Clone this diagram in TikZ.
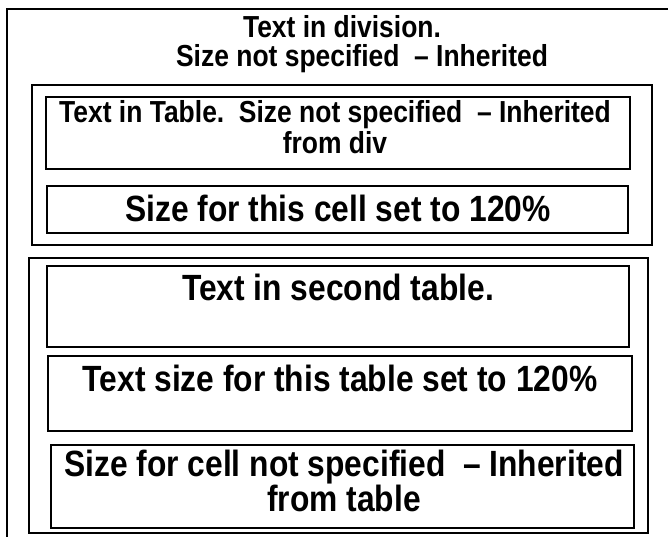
\documentclass[tikz,border=0pt]{standalone}
\usepackage{fontspec}
\setmainfont{Liberation Sans}[FakeStretch=0.87]

\begin{document}
\begin{tikzpicture}[x=1pt, y=-1pt,
  boxline/.style={draw=black, line width=2.2pt},
  normtext/.style={font=\bfseries\fontsize{30.4}{31}\selectfont, align=center, inner sep=0pt},
  bigtext/.style={font=\bfseries\fontsize{36.5}{33}\selectfont, align=center, inner sep=0pt}]

\useasboundingbox (0, 0) rectangle (668, 536);

\def\xo{7}; % division left
\def\yo{9}; % division top

% first table
\def\xal{32};
\def\xar{652};
\def\yat{85};
\def\yab{245};

% second table
\def\xbl{29};
\def\xbr{648};
\def\ybt{258};
\def\ybb{533};

% division (runs off the page on the right and at the bottom)
\draw[boxline] (\xo, 545) -- (\xo, \yo) -- (680, \yo);

\draw[boxline] (\xal, \yat) rectangle (\xar, \yab);
\draw[boxline] (46, 97) rectangle (630, 169);
\draw[boxline] (47, 186) rectangle (628, 233);

\draw[boxline] (\xbl, \ybt) rectangle (\xbr, \ybb);
\draw[boxline] (47, 266) rectangle (629, 347);
\draw[boxline] (48, 356) rectangle (632, 431);
\draw[boxline] (51, 445) rectangle (634, 528);

\node[normtext] (divone) at (342, 27) {Text in division.};
\node[normtext] (divtwo) at (362, 59) {Size not specified\ \ – Inherited};

\node[normtext] (cellone) at (335, 127) {Text in Table.\ \ Size not specified\ \ – Inherited\\from div};
\node[bigtext] (celltwo) at (338, 208) {Size for this cell set to 120\%};

\node[bigtext] (cellthree) at (338, 287) {Text in second table.};
\node[bigtext] (cellfour) at (340, 378) {Text size for this table set to 120\%};
\node[bigtext] (cellfive) at (344, 481) {Size for cell not specified\ \ – Inherited\\from table};

\end{tikzpicture}
\end{document}
